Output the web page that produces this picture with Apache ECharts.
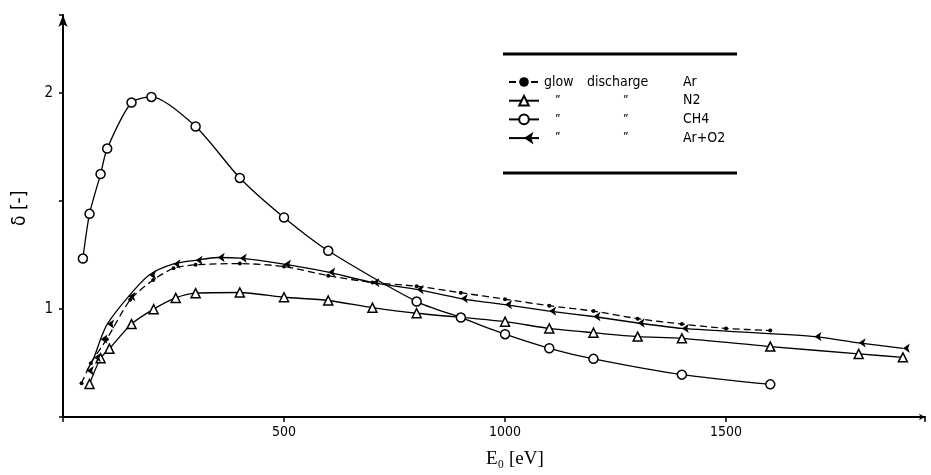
<!DOCTYPE html>
<html>
<head>
<meta charset="utf-8">
<script src="https://cdn.jsdelivr.net/npm/echarts@6/dist/echarts.min.js"></script>
<style>html,body{margin:0;padding:0;background:#fff}#c{width:931px;height:475px}</style>
</head>
<body>
<div id="c"></div>
<script>
// ---- data ----
const arE  = [42, 63, 99, 152, 204, 250, 300, 400, 500, 600, 700, 800, 900, 1000, 1100, 1200, 1300, 1400, 1500, 1600];
const arD  = [0.656, 0.749, 0.86, 1.042, 1.134, 1.188, 1.204, 1.21, 1.196, 1.154, 1.122, 1.105, 1.075, 1.045, 1.015, 0.99, 0.955, 0.93, 0.91, 0.90];

const n2E  = [60, 85, 105, 155, 205, 255, 300, 400, 500, 600, 700, 800, 1000, 1100, 1200, 1300, 1400, 1600, 1800, 1900];
const n2D  = [0.653, 0.772, 0.816, 0.93, 0.999, 1.051, 1.073, 1.076, 1.054, 1.039, 1.006, 0.98, 0.941, 0.91, 0.89, 0.872, 0.864, 0.826, 0.792, 0.776];

const ch4E = [45, 60, 85, 100, 155, 200, 300, 400, 500, 600, 800, 900, 1000, 1100, 1200, 1400, 1600];
const ch4D = [1.233, 1.44, 1.624, 1.742, 1.955, 1.981, 1.844, 1.606, 1.423, 1.269, 1.034, 0.96, 0.883, 0.818, 0.769, 0.696, 0.651];

const aroE = [54, 70, 85, 100, 148, 195, 250, 300, 350, 400, 500, 600, 700, 800, 900, 1000, 1100, 1200, 1300, 1400, 1700, 1800, 1900];
const aroD = [0.714, 0.775, 0.86, 0.93, 1.057, 1.157, 1.208, 1.225, 1.238, 1.235, 1.207, 1.17, 1.122, 1.09, 1.048, 1.02, 0.99, 0.965, 0.935, 0.91, 0.872, 0.843, 0.818];

const seriesNames = ['Ar', 'N2', 'CH4', 'Ar+O2'];
const yTickLabels = ['1', '2'];
const xTickLabels = ['500', '1000', '1500'];

const zip = (a, b) => a.map((v, i) => [v, b[i]]);
const SANS = '"DejaVu Sans Condensed","Liberation Sans Narrow","Roboto Condensed","DejaVu Sans",sans-serif';

const chart = echarts.init(document.getElementById('c'), null, {renderer: 'canvas'});
const base = {type: 'line', smooth: 0.25, color: '#000', z: 3};
chart.setOption({
  animation: false,
  backgroundColor: '#fff',
  grid: {left: 63, right: 6, top: 15, bottom: 58, containLabel: false},
  xAxis: {
    type: 'value', min: 0, max: 1950, interval: 500,
    axisLine: {show: true, lineStyle: {color: '#000', width: 2}, symbol: ['none', 'arrow'], symbolSize: [5, 6]},
    axisTick: {show: true, length: 5, lineStyle: {color: '#000', width: 1.5}},
    axisLabel: {margin: 8, color: '#000', fontSize: 14, fontFamily: SANS,
      formatter: v => xTickLabels.includes(String(v)) ? String(v) : ''},
    splitLine: {show: false}
  },
  yAxis: {
    type: 'value', min: 0.5, max: 2.36, interval: 0.5,
    axisLine: {show: true, lineStyle: {color: '#000', width: 2}, symbol: ['none', 'arrow'], symbolSize: [7, 12]},
    axisTick: {show: true, length: 4, lineStyle: {color: '#000', width: 1.5}},
    axisLabel: {margin: 10, color: '#000', fontSize: 15, fontFamily: SANS,
      formatter: v => yTickLabels.includes(String(v)) ? String(v) : ''},
    splitLine: {show: false}
  },
  legend: {
    orient: 'vertical', left: 503, top: 69,
    itemWidth: 30, itemHeight: 12, itemGap: 2.7,
    data: seriesNames,
    textStyle: {
      color: '#000', fontFamily: SANS, fontSize: 14, lineHeight: 16,
      rich: {
        a: {width: 43, fontFamily: SANS, fontSize: 14, lineHeight: 16, color: '#000'},
        b: {width: 96, fontFamily: SANS, fontSize: 14, lineHeight: 16, color: '#000'},
        d1: {width: 32, padding: [0, 0, 0, 11], fontFamily: SANS, fontSize: 12, lineHeight: 16, color: '#000'},
        d2: {width: 60, padding: [0, 0, 0, 36], fontFamily: SANS, fontSize: 12, lineHeight: 16, color: '#000'},
        c: {fontFamily: SANS, fontSize: 14, lineHeight: 16, color: '#000'}
      }
    },
    formatter: name => name === 'Ar'
      ? '{a|glow}{b|discharge}{c|' + name + '}'
      : '{d1|\u201D}{d2|\u201D}{c|' + name + '}'
  },
  graphic: [
    {type: 'line', shape: {x1: 503, y1: 54, x2: 737, y2: 54}, style: {stroke: '#000', lineWidth: 3}},
    {type: 'line', shape: {x1: 503, y1: 173, x2: 737, y2: 173}, style: {stroke: '#000', lineWidth: 3}},
    {type: 'text', left: 486, top: 450, style: {text: 'E\u2080 [eV]', font: '19px "Liberation Serif","DejaVu Serif",serif', fill: '#000'}},
    {type: 'text', x: 11, y: 226, rotation: Math.PI / 2, style: {text: '\u03B4 [-]', font: '19px ' + SANS, fill: '#000'}}
  ],
  series: [
    Object.assign({}, base, {name: 'Ar', data: zip(arE, arD), symbol: 'circle', symbolSize: 4,
      lineStyle: {color: '#000', width: 1.3, type: [7, 4]}, itemStyle: {color: '#000'}}),
    Object.assign({}, base, {name: 'N2', data: zip(n2E, n2D), symbol: 'triangle', symbolSize: 9,
      lineStyle: {color: '#000', width: 1.3}, itemStyle: {color: '#fff', borderColor: '#000', borderWidth: 1.5}}),
    Object.assign({}, base, {name: 'CH4', data: zip(ch4E, ch4D), symbol: 'circle', symbolSize: 9,
      lineStyle: {color: '#000', width: 1.3}, itemStyle: {color: '#fff', borderColor: '#000', borderWidth: 1.5}}),
    Object.assign({}, base, {name: 'Ar+O2', data: zip(aroE, aroD), symbol: 'arrow', symbolSize: 7, symbolRotate: 90,
      lineStyle: {color: '#000', width: 1.3}, itemStyle: {color: '#000'}})
  ]
});
</script>
</body>
</html>
